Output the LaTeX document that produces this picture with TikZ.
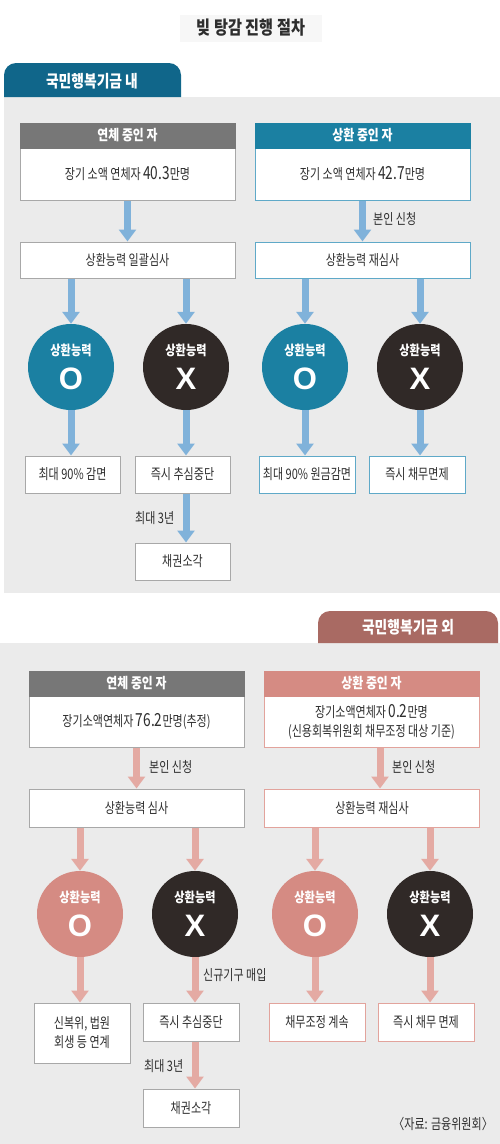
\documentclass[tikz,border=0pt]{standalone}
\usepackage{fontspec}
\setmainfont{Noto Sans CJK KR}[FakeStretch=0.76]
\newfontfamily\hdrfont{Noto Sans CJK KR}[FakeStretch=0.82]
\newfontfamily\markfont{Liberation Sans}
\usepackage{xcolor}
\usetikzlibrary{arrows.meta}

\definecolor{panelgray}{HTML}{EBEBEB}
\definecolor{textgray}{HTML}{2E2E2E}
\definecolor{boxgray}{HTML}{A8A8A8}
\definecolor{hdrgray}{HTML}{777777}
\definecolor{tabteal}{HTML}{10668A}
\definecolor{teal}{HTML}{1B80A2}
\definecolor{lteal}{HTML}{5FA9C8}
\definecolor{darkc}{HTML}{302927}
\definecolor{arrblue}{HTML}{80B2DA}
\definecolor{tabrose}{HTML}{A96A63}
\definecolor{rose}{HTML}{D58B83}
\definecolor{lrose}{HTML}{E2A39C}
\definecolor{arrrose}{HTML}{E4AAA3}

\newcommand{\ablemark}[1]{{\hdrfont\bfseries 상환능력}\\{\markfont\bfseries\fontsize{31}{31}\selectfont #1}}
\newcommand{\bignum}[1]{{\fontsize{18}{18}\selectfont #1}}

\begin{document}
\begin{tikzpicture}[x=1pt,y=-1pt,
  box/.style={draw=boxgray, fill=white, line width=1pt, minimum height=37pt,
    inner sep=1pt, align=center, text=textgray, font=\fontsize{14.5}{19}\selectfont},
  hdr/.style={fill=#1, draw=#1, line width=1pt, minimum width=215pt, minimum height=25pt,
    inner sep=0pt, text=white, font=\fontsize{14.5}{16}\hdrfont\bfseries},
  ball/.style={circle, fill=#1, minimum size=86pt, inner sep=0pt, align=center, text=white,
    font=\fontsize{13.6}{34}\selectfont},
  lbl/.style={text=textgray, inner sep=1pt, font=\fontsize{14.5}{17}\selectfont},
  tab/.style={text=white, font=\fontsize{16.8}{18}\hdrfont\bfseries},
  bluearr/.style={draw=arrblue, line width=7pt, -{Triangle[width=17pt,length=12pt]}},
  rosearr/.style={draw=arrrose, line width=7pt, -{Triangle[width=17pt,length=12pt]}}]
  \useasboundingbox (0,0) rectangle (500,1144);

  % title
  \node[fill=black!3, minimum width=142pt, minimum height=27pt, text=textgray,
    font=\fontsize{18.5}{20}\hdrfont\bfseries] (title) at (251,28) {빚 탕감 진행 절차};

  % ---- panel 1 ----
  \fill[panelgray] (4,97) rectangle (500,593);
  \fill[tabteal] (4,97) [rounded corners=12pt] -- (4,63) -- (181,63) [sharp corners] -- (181,97) -- cycle;
  \node[tab] (tabA) at (92,81) {국민행복기금 내};

  \node[box, minimum width=215pt, minimum height=52pt] (boxA1) at (127.5,174) {장기 소액 연체자 \bignum{40.3}만명};
  \node[hdr=hdrgray] (hdrA1) at (127.5,135.5) {연체 중인 자};
  \node[box, draw=lteal, minimum width=215pt, minimum height=52pt] (boxB1) at (362.5,174) {장기 소액 연체자 \bignum{42.7}만명};
  \node[hdr=teal] (hdrB1) at (362.5,135.5) {상환 중인 자};

  \node[box, minimum width=215pt, minimum height=36pt] (revA1) at (127.5,260) {상환능력 일괄심사};
  \node[box, draw=lteal, minimum width=215pt, minimum height=36pt] (revB1) at (362.5,260) {상환능력 재심사};
  \node[lbl, anchor=west] (askB1) at (372,219) {본인 신청};

  \node[ball=teal] (oA1) at (71,367) {\ablemark{O}};
  \node[ball=darkc] (xA1) at (186,367) {\ablemark{X}};
  \node[ball=teal] (oB1) at (305,367) {\ablemark{O}};
  \node[ball=darkc] (xB1) at (420,367) {\ablemark{X}};

  \node[box, minimum width=95pt] (resA1) at (72.5,474.5) {최대 90\% 감면};
  \node[box, minimum width=95pt] (resA2) at (182.5,474.5) {즉시 추심중단};
  \node[box, minimum width=95pt] (burnA) at (182.5,561.5) {채권소각};
  \node[lbl, anchor=west] (yrA) at (134,518) {최대 3년};
  \node[box, draw=lteal, minimum width=96pt] (resB1) at (307,474.5) {최대 90\% 원금감면};
  \node[box, draw=lteal, minimum width=96pt] (resB2) at (417,474.5) {즉시 채무면제};

  \draw[bluearr] (boxA1.south) -- (revA1.north);
  \draw[bluearr] (boxB1.south) -- (revB1.north);
  \foreach \c in {oA1,xA1}{\draw[bluearr] (revA1.south -| \c) -- (\c.north);}
  \foreach \c in {oB1,xB1}{\draw[bluearr] (revB1.south -| \c) -- (\c.north);}
  \draw[bluearr] (oA1.south) -- (oA1 |- resA1.north);
  \draw[bluearr] (xA1.south) -- (xA1 |- resA2.north);
  \draw[bluearr] (oB1.south) -- (oB1 |- resB1.north);
  \draw[bluearr] (xB1.south) -- (xB1 |- resB2.north);
  \draw[bluearr] (resA2.south -| xA1) -- (burnA.north -| xA1);

  % ---- panel 2 ----
  \fill[panelgray] (0,643) rectangle (500,1144);
  \fill[tabrose] (318,643) [rounded corners=12pt] -- (318,611) -- (498,611) [sharp corners] -- (498,643) -- cycle;
  \node[tab] (tabB) at (408,627) {국민행복기금 외};

  \node[box, minimum width=215pt, minimum height=51pt] (boxA2) at (136.5,721.5) {장기소액연체자 \bignum{76.2}만명(추정)};
  \node[hdr=hdrgray] (hdrA2) at (136.5,683.5) {연체 중인 자};
  \node[box, draw=lrose, minimum width=215pt, minimum height=51pt] (boxB2) at (371.5,721.5)
    {장기소액연체자 \bignum{0.2}만명\\(신용회복위원회 채무조정 대상 기준)};
  \node[hdr=rose] (hdrB2) at (371.5,683.5) {상환 중인 자};

  \node[box, minimum width=215pt, minimum height=38pt] (revA2) at (136.5,808) {상환능력 심사};
  \node[box, draw=lrose, minimum width=215pt, minimum height=38pt] (revB2) at (372,808) {상환능력 재심사};
  \node[lbl, anchor=west] (askA2) at (148,767) {본인 신청};
  \node[lbl, anchor=west] (askB2) at (391,767) {본인 신청};

  \node[ball=rose] (oA2) at (80,914) {\ablemark{O}};
  \node[ball=darkc] (xA2) at (195,914) {\ablemark{X}};
  \node[ball=rose] (oB2) at (315,914) {\ablemark{O}};
  \node[ball=darkc] (xB2) at (430,914) {\ablemark{X}};
  \node[lbl, anchor=west] (buyA2) at (202,975) {신규기구 매입};

  \node[box, minimum width=96pt, minimum height=60pt] (resC1) at (82,1033) {신복위, 법원\\회생 등 연계};
  \node[box, minimum width=96pt, minimum height=38pt] (resC2) at (191,1022) {즉시 추심중단};
  \node[box, minimum width=96pt, minimum height=38pt] (burnC) at (191,1108) {채권소각};
  \node[lbl, anchor=west] (yrC) at (143,1066) {최대 3년};
  \node[box, draw=lrose, minimum width=96pt, minimum height=38pt] (resD1) at (317,1022) {채무조정 계속};
  \node[box, draw=lrose, minimum width=96pt, minimum height=38pt] (resD2) at (426,1022) {즉시 채무 면제};

  \draw[rosearr] (boxA2.south) -- (revA2.north);
  \draw[rosearr] ([xshift=8.5pt]boxB2.south) -- ([xshift=8pt]revB2.north);
  \foreach \c in {oA2,xA2}{\draw[rosearr] (revA2.south -| \c) -- (\c.north);}
  \foreach \c in {oB2,xB2}{\draw[rosearr] (revB2.south -| \c) -- (\c.north);}
  \draw[rosearr] (oA2.south) -- (oA2 |- resC1.north);
  \draw[rosearr] (xA2.south) -- (xA2 |- resC2.north);
  \draw[rosearr] (oB2.south) -- (oB2 |- resD1.north);
  \draw[rosearr] (xB2.south) -- (xB2 |- resD2.north);
  \draw[rosearr] (resC2.south -| xA2) -- (burnC.north -| xA2);

  % source
  \node[lbl, anchor=east] (src) at (494,1124) {〈자료: 금융위원회〉};
\end{tikzpicture}
\end{document}
